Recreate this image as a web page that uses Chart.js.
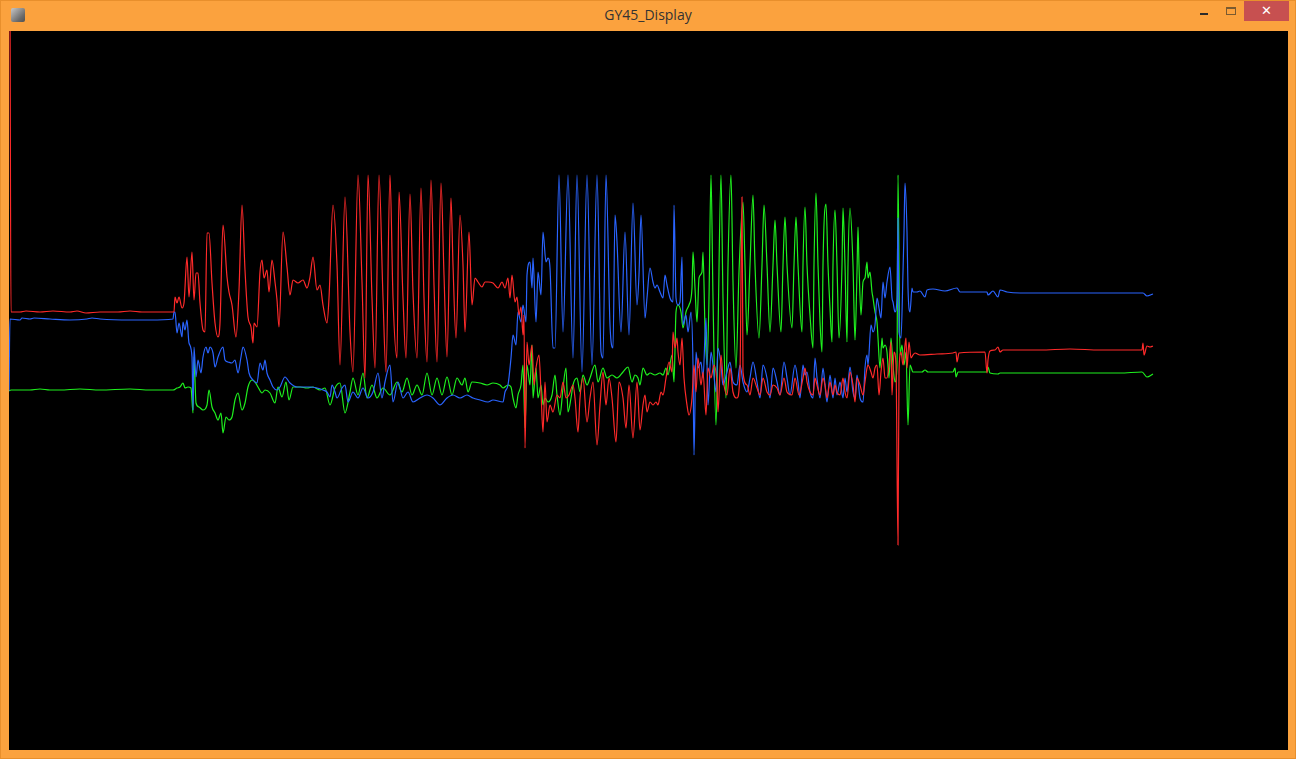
<!DOCTYPE html>
<html>
<head>
<meta charset="utf-8">
<title>GY45_Display</title>
<script src="https://cdn.jsdelivr.net/npm/chart.js@4.4.1/dist/chart.umd.min.js"></script>
<style>
  html, body { margin:0; padding:0; width:1296px; height:759px; overflow:hidden; background:#fba23e; }
  .frame { position:absolute; left:0; top:0; width:1294px; height:757px; border:1px solid #e88f2c; }
  .title { position:absolute; left:0; top:5px; width:1296px; text-align:center; font:14px "Open Sans","Noto Sans",sans-serif; color:#333; }
  .icon { position:absolute; left:11px; top:8px; width:14px; height:14px; border-radius:2px;
          background:linear-gradient(135deg,#c8c8c8,#6a6a6a 70%,#505050); }
  .min { position:absolute; left:1200px; top:13px; width:8px; height:2px; background:#2b2b2b; }
  .max { position:absolute; left:1226px; top:7px; width:8px; height:5px; border:1px solid #7a5a30; border-top-width:2px; }
  .close { position:absolute; left:1244px; top:1px; width:45px; height:20px; background:#c75050; color:#fff;
           font:bold 13px "DejaVu Sans",sans-serif; text-align:center; line-height:20px; }
  .plot { position:absolute; left:9px; top:31px; width:1279px; height:719px; background:#000; }
</style>
</head>
<body>
<div class="frame"></div>
<div class="icon"></div>
<div class="title">GY45_Display</div>
<div class="min"></div>
<div class="max"></div>
<div class="close">&#x2715;</div>
<div class="plot"><canvas id="chart"></canvas></div>
<script>
// samples: [time, reading] (reading in screen units, larger = lower)
const redPts = [
  [10,0],[11,312],[20,312],[26,311],[40,312],[53,311],[70,312],[77,311],[86,313],[100,312],[118,312],[130,311],[142,312],[160,312],[174,312],
  [175,297],[177,303],[179,297],[182,308],[184,303],[187,257],[189,297],[192,252],[194,300],[196,273],[198,273],[200,303],[203,330],[205,332],
  [207,233],[209,233],[212,283],[215,323],[218,337],[220,323],[223,225],[227,277],[229,292],[232,305],[236,337],[239,290],[242,205],[245,270],
  [248,317],[251,327],[253,343],[254,323],[257,327],[260,272],[262,260],[264,278],[267,270],[269,292],[272,260],[275,282],[277,300],[279,327],
  [283,232],[287,267],[290,295],[293,280],[298,283],[303,280],[307,288],[310,277],[313,257],[317,290],[320,285],[323,305],[327,323],[329,298],
  [333,205],[337,265],[340,365],[345,197],[350,332],[353,372],[358,175],[362,282],[365,378],[368,175],[372,298],[375,368],[379,175],[383,298],
  [386,372],[390,175],[393,298],[397,358],[399,192],[403,298],[406,358],[410,194],[413,292],[417,358],[421,188],[424,298],[427,362],[431,180],
  [434,285],[437,362],[441,183],[444,275],[447,357],[451,198],[453,265],[456,338],[460,215],[463,265],[465,332],[469,232],[472,305],[475,278],
  [478,282],[482,287],[485,282],[488,282],[493,283],[498,288],[502,282],[505,288],[508,278],[510,298],[512,275],[515,302],[517,297],[519,315],
  [521,307],[523,335],[524,315],[525,448],[527,342],[529,365],[532,345],[534,385],[536,368],[539,355],[541,392],[543,432],[545,382],[547,422],
  [550,405],[553,412],[557,395],[560,398],[563,382],[566,398],[569,395],[573,385],[575,398],[578,432],[580,398],[583,378],[587,422],[590,398],
  [593,382],[597,445],[600,405],[603,372],[606,405],[609,378],[612,398],[616,442],[619,382],[623,398],[626,428],[629,385],[633,438],[637,382],
  [640,430],[643,405],[645,395],[647,412],[650,402],[653,405],[656,402],[658,405],[661,392],[663,395],[666,378],[669,362],[672,372],[673,332],
  [675,348],[677,338],[678,352],[680,365],[682,338],[684,378],[687,405],[689,415],[692,398],[694,365],[696,392],[698,358],[701,385],[703,372],
  [706,415],[708,368],[711,378],[714,365],[717,385],[718,412],[721,355],[723,378],[727,395],[730,368],[733,392],[737,398],[740,372],[742,197],
  [743,372],[747,385],[750,395],[753,378],[757,388],[760,395],[763,378],[767,392],[770,395],[773,385],[777,388],[780,395],[784,378],[787,392],
  [792,395],[795,378],[799,395],[803,378],[805,368],[807,382],[810,392],[813,395],[815,378],[817,385],[820,395],[823,378],[825,385],[827,398],
  [830,382],[833,395],[835,385],[837,392],[840,395],[843,378],[845,392],[847,398],[850,372],[853,385],[855,402],[857,378],[860,385],[863,395],
  [865,382],[867,368],[868,365],[871,372],[873,378],[875,368],[877,365],[879,395],[881,372],[883,358],[885,378],[887,378],[889,365],[891,342],
  [892,395],[894,352],[896,365],[898,545],[899,372],[901,352],[903,365],[905,345],[906,338],[907,368],[909,342],[911,358],[913,355],[915,353],
  [920,355],[937,354],[953,353],[956,352],[957,362],[959,353],[985,352],[987,373],[988,360],[990,351],[995,350],[998,347],[1000,352],[1003,350],
  [1013,350],[1040,350],[1070,349],[1100,350],[1142,350],[1143,343],[1144,355],[1147,346],[1150,347],[1153,346]
];
const greenPts = [
  [9,391],[11,390],[30,390],[40,389],[50,390],[60,390],[80,389],[100,390],[130,389],[150,390],[173,390],[177,388],[180,387],[183,383],[185,388],
  [188,387],[191,388],[193,413],[194,357],[196,403],[199,407],[203,410],[207,405],[209,390],[212,407],[215,413],[218,420],[221,413],[223,433],
  [226,417],[229,420],[232,417],[235,400],[238,393],[242,410],[245,403],[248,387],[252,380],[255,382],[258,387],[262,393],[265,390],[270,393],
  [275,403],[278,387],[282,397],[286,382],[289,400],[293,387],[300,387],[307,388],[313,387],[320,390],[325,388],[330,405],[335,388],[340,383],
  [345,413],[350,392],[353,378],[358,395],[363,373],[367,398],[372,385],[377,398],[383,388],[390,395],[397,382],[402,392],[407,378],[412,395],
  [417,385],[422,395],[427,373],[432,395],[437,378],[442,395],[447,377],[452,395],[457,378],[462,385],[465,378],[468,392],[472,382],[480,383],
  [487,385],[493,383],[500,385],[503,388],[508,385],[511,387],[513,398],[516,408],[518,395],[521,385],[523,365],[525,428],[527,365],[530,385],
  [532,345],[533,398],[536,368],[538,398],[541,385],[543,405],[545,398],[548,402],[552,395],[555,375],[557,395],[560,415],[563,388],[566,368],
  [568,412],[571,398],[573,385],[577,378],[580,392],[583,375],[587,385],[590,378],[595,365],[598,382],[603,368],[607,378],[612,375],[617,378],
  [623,372],[628,367],[632,382],[635,375],[638,378],[640,385],[643,368],[647,375],[650,373],[655,375],[660,373],[663,375],[666,368],[668,375],
  [672,355],[674,382],[676,312],[678,305],[681,312],[683,328],[686,312],[689,305],[692,288],[693,252],[695,288],[697,322],[699,278],[702,272],
  [703,252],[705,328],[707,365],[709,298],[711,175],[713,298],[716,425],[718,332],[721,175],[723,298],[726,398],[728,265],[731,175],[733,282],
  [736,368],[739,272],[743,202],[745,265],[747,335],[750,265],[753,195],[755,265],[759,338],[762,265],[764,205],[767,265],[770,332],[773,265],
  [775,220],[777,265],[781,332],[783,265],[785,217],[787,265],[792,328],[794,265],[796,217],[798,265],[802,332],[803,265],[805,207],[807,265],
  [810,315],[813,348],[814,265],[816,193],[818,265],[820,322],[822,352],[823,265],[826,204],[828,265],[830,308],[832,342],[833,265],[835,210],
  [837,265],[839,338],[842,265],[843,208],[845,265],[847,342],[848,265],[850,208],[853,265],[855,340],[857,272],[858,227],[859,265],[861,315],
  [863,282],[865,278],[867,262],[868,278],[870,272],[872,292],[873,298],[875,312],[877,322],[878,338],[880,368],[882,338],[883,348],[885,345],
  [887,352],[889,378],[891,338],[893,365],[895,382],[897,365],[898,175],[900,355],[902,345],[904,365],[906,352],[908,425],[910,365],[913,372],
  [917,372],[922,372],[925,370],[928,372],[940,372],[953,372],[955,368],[956,377],[958,372],[987,372],[988,367],[990,373],[998,374],[1000,373],
  [1040,373],[1080,373],[1120,373],[1142,372],[1147,377],[1153,374]
];
const bluePts = [
  [9,391],[10,319],[20,320],[22,318],[30,319],[34,318],[50,319],[70,320],[87,319],[92,318],[100,319],[130,320],[150,320],[173,319],[174,312],
  [175,312],[177,333],[179,323],[182,337],[183,322],[185,330],[187,320],[189,343],[192,357],[193,410],[194,347],[196,377],[198,360],[201,373],
  [203,357],[206,347],[208,353],[210,347],[213,353],[215,367],[218,357],[223,347],[225,360],[228,362],[232,363],[235,360],[238,373],[241,357],
  [243,347],[247,360],[249,373],[253,380],[257,383],[260,363],[263,370],[265,360],[267,373],[270,380],[273,387],[277,390],[280,387],[285,377],
  [290,383],[297,387],[303,387],[310,387],[317,388],[323,390],[327,392],[330,397],[332,385],[335,392],[337,398],[342,388],[345,385],[348,402],
  [353,392],[358,398],[363,388],[368,398],[373,392],[378,373],[382,398],[385,382],[390,365],[393,402],[398,382],[403,398],[408,392],[413,402],
  [420,398],[427,395],[433,398],[440,405],[447,398],[453,395],[460,398],[467,395],[473,398],[480,400],[488,402],[493,400],[503,402],[505,392],
  [508,385],[511,358],[513,335],[516,345],[518,312],[521,322],[523,305],[526,322],[527,275],[530,262],[532,288],[533,258],[536,322],[538,272],
  [541,295],[543,232],[546,262],[548,258],[550,268],[553,348],[555,348],[559,175],[563,332],[568,175],[573,358],[577,175],[582,372],[587,175],
  [592,365],[597,175],[601,352],[603,358],[606,175],[610,325],[613,348],[615,215],[617,242],[621,332],[625,232],[629,335],[633,203],[637,305],
  [639,275],[641,215],[645,318],[647,298],[650,268],[653,282],[655,288],[657,285],[660,292],[663,298],[665,275],[667,285],[670,298],[673,302],
  [674,205],[676,298],[678,305],[680,302],[682,257],[683,325],[686,315],[688,332],[691,312],[693,365],[694,455],[696,352],[698,368],[701,362],
  [703,378],[706,318],[708,405],[711,352],[713,365],[716,392],[718,348],[721,365],[723,385],[727,372],[730,362],[733,382],[737,385],[740,365],
  [743,382],[747,392],[750,378],[753,362],[757,382],[760,398],[763,365],[767,378],[770,398],[773,368],[777,382],[780,395],[784,362],[787,378],
  [790,395],[795,365],[798,382],[800,398],[803,365],[805,375],[807,372],[810,392],[813,398],[815,358],[817,378],[820,398],[823,368],[825,385],
  [827,402],[830,375],[833,398],[835,378],[837,395],[840,382],[843,398],[845,378],[847,392],[850,367],[853,392],[855,398],[857,375],[860,398],
  [863,402],[865,368],[867,355],[868,365],[871,325],[873,332],[875,325],[877,298],[879,308],[881,318],[883,282],[885,298],[887,282],[890,267],
  [892,298],[893,302],[895,312],[897,298],[898,218],[899,332],[901,338],[903,272],[904,232],[905,183],[907,232],[908,288],[910,312],[912,288],
  [913,292],[917,292],[920,291],[925,297],[927,290],[933,289],[945,291],[957,288],[960,292],[987,292],[988,295],[993,291],[998,297],[1000,290],
  [1007,292],[1020,293],[1060,293],[1100,293],[1143,293],[1147,296],[1153,294]
];

const seriesColors = { red:'#ff2a2a', green:'#1ef01e', blue:'#2a64ff' };
const toXY = pts => pts.map(p => ({ x:p[0], y:p[1] }));

function ds(pts, color) {
  return { data:toXY(pts), borderColor:color, borderWidth:1.2, pointRadius:0, fill:false, tension:0, cubicInterpolationMode:'monotone' };
}

Chart.defaults.animation = false;
new Chart(document.getElementById('chart').getContext('2d'), {
  type:'line',
  data:{ datasets:[ ds(redPts, seriesColors.red), ds(bluePts, seriesColors.blue), ds(greenPts, seriesColors.green) ] },
  options:{
    responsive:true, maintainAspectRatio:false, devicePixelRatio:1,
    layout:{ padding:0 },
    plugins:{ legend:{ display:false }, tooltip:{ enabled:false } },
    scales:{
      x:{ type:'linear', min:9, max:1288, display:false },
      y:{ min:31, max:750, reverse:true, display:false }
    }
  }
});
</script>
</body>
</html>
